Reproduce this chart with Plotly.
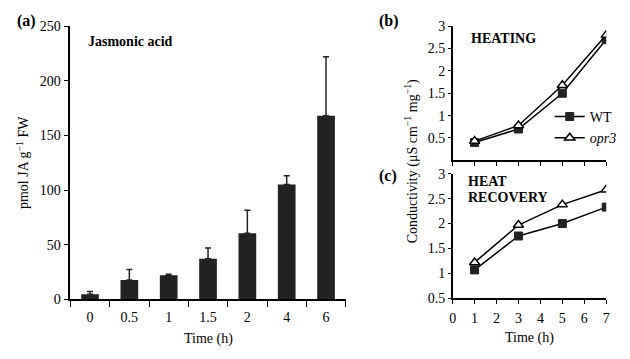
import plotly.graph_objects as go

W, H = 630, 359

# ---- data ----
ja_times = ["0", "0.5", "1", "1.5", "2", "4", "6"]
ja_values = [4.6, 17.7, 22, 37, 60.5, 105, 168]
ja_err_up = [2.5, 9.5, 1, 10, 21, 8, 54]

cond_times = [1, 3, 5, 7]
heat_wt = [0.40, 0.70, 1.50, 2.70]
heat_opr3 = [0.43, 0.78, 1.68, 2.80]
rec_wt = [1.07, 1.75, 2.00, 2.33]
rec_opr3 = [1.22, 1.97, 2.38, 2.68]

a_yticks = [0, 50, 100, 150, 200, 250]
bc_yticks_b = [0.5, 1, 1.5, 2, 2.5, 3]
bc_yticks_c = [0.5, 1, 1.5, 2, 2.5, 3]
c_xticks = [0, 1, 2, 3, 4, 5, 6, 7]

FONT = "Liberation Serif"
def px(x): return x / W
def py(y): return 1 - y / H

fig = go.Figure()

fig.add_trace(go.Bar(
    x=ja_times, y=ja_values, xaxis="x", yaxis="y",
    marker=dict(color="#222222", line=dict(width=0)),
    error_y=dict(type="data", symmetric=False, array=ja_err_up,
                 arrayminus=[0]*len(ja_err_up), color="#222222",
                 thickness=1.5, width=3),
    showlegend=False))

wt_style = dict(mode="lines+markers", line=dict(color="black", width=1.5),
                marker=dict(symbol="square", size=8, color="#222222",
                            line=dict(color="#222222", width=1)))
op_style = dict(mode="lines+markers", line=dict(color="black", width=1.5),
                marker=dict(symbol="triangle-up", size=9, color="white",
                            line=dict(color="black", width=1.5)))

fig.add_trace(go.Scatter(x=cond_times, y=heat_wt, xaxis="x2", yaxis="y2",
                         name="WT", **wt_style))
fig.add_trace(go.Scatter(x=cond_times, y=heat_opr3, xaxis="x2", yaxis="y2",
                         name="<i>opr3</i>", **op_style))
fig.add_trace(go.Scatter(x=cond_times, y=rec_wt, xaxis="x3", yaxis="y3",
                         showlegend=False, **wt_style))
fig.add_trace(go.Scatter(x=cond_times, y=rec_opr3, xaxis="x3", yaxis="y3",
                         showlegend=False, **op_style))

axfont = dict(family=FONT, size=14, color="black")
common = dict(showgrid=False, zeroline=False, showline=True, linecolor="black",
              linewidth=1.5, ticks="outside", tickcolor="black", tickwidth=1.2,
              tickfont=axfont)

fig.update_layout(
    width=W, height=H, margin=dict(l=0, r=0, t=0, b=0),
    paper_bgcolor="white", plot_bgcolor="white",
    font=axfont, bargap=0.55,
    xaxis=dict(domain=[px(68), px(346)], anchor="y", type="category",
               tickson="boundaries", ticklen=6, ticklabelstandoff=4, **common),
    yaxis=dict(domain=[py(305), py(20)], anchor="x", range=[0, 250],
               tickvals=a_yticks, ticklen=5, **common),
    xaxis2=dict(domain=[px(454), px(609)], anchor="y2", range=[0, 7],
                tickvals=c_xticks, ticklen=4, showticklabels=False, **common),
    yaxis2=dict(domain=[py(160), py(20)], anchor="x2", range=[0, 3],
                tickvals=bc_yticks_b, ticklen=3, **common),
    xaxis3=dict(domain=[px(454), px(609)], anchor="y3", range=[0, 7],
                tickvals=c_xticks, ticklen=4, ticklabelstandoff=2, **common),
    yaxis3=dict(domain=[py(304), py(174)], anchor="x3", range=[0.5, 3],
                tickvals=bc_yticks_c, ticklen=3, **common),
    legend=dict(x=px(552), y=py(98), xanchor="left", yanchor="top",
                bgcolor="rgba(0,0,0,0)", font=axfont, itemwidth=30,
                tracegroupgap=0),
)

def ann(text, x, y, size=14, bold=False, angle=0, xanchor="center"):
    if bold:
        text = "<b>" + text + "</b>"
    fig.add_annotation(text=text, x=px(x), y=py(y), xref="paper", yref="paper",
                       showarrow=False, textangle=angle, xanchor=xanchor,
                       yanchor="middle", font=dict(family=FONT, size=size, color="black"))

ann("(a)", 12, 15, size=16, bold=True, xanchor="left")
ann("(b)", 378, 15, size=16, bold=True, xanchor="left")
ann("(c)", 378, 176, size=16, bold=True, xanchor="left")
ann("Jasmonic acid", 84, 36, bold=True, xanchor="left")
ann("HEATING", 470, 33, bold=True, xanchor="left")
ann("HEAT", 467, 182, bold=True, xanchor="left")
ann("RECOVERY", 467, 199, bold=True, xanchor="left")
ann("pmol JA g<sup>−1</sup> FW", 20, 162, angle=-90)
ann("Conductivity (μS cm<sup>−1</sup> mg<sup>−1</sup>)", 412, 161, angle=-90)
ann("Time (h)", 207, 346)
ann("Time (h)", 532, 345)

fig.write_html("out.html", config={"displayModeBar": False},
               post_script="document.body.style.margin='0';document.body.style.overflow='hidden';")
